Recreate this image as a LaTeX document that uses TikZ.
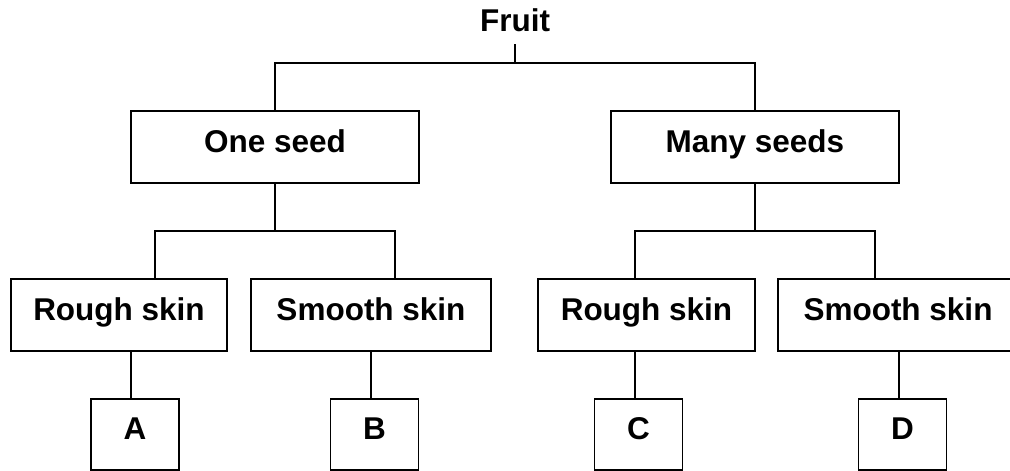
\documentclass[tikz,border=0pt]{standalone}
\usepackage{fontspec}
\setmainfont{Liberation Sans}
\usepackage{tikz}

\begin{document}
\begin{tikzpicture}[x=1pt,y=-1pt,
  txt/.style={inner sep=0pt, text height=23pt, text depth=13pt, font=\fontsize{31.5}{36}\selectfont\bfseries},
  box/.style={txt, draw, line width=1.5pt, minimum height=72pt},
  link/.style={line width=1.5pt}]
\useasboundingbox (0,0) rectangle (1010,471);
\node[txt] (fruit) at (515,26) {Fruit};
\node[box, minimum width=288pt] (one) at (275,147) {One seed};
\node[box, minimum width=288pt] (many) at (755,147) {Many seeds};
\node[box, minimum width=216pt] (r1) at (119,315) {Rough skin};
\node[box, minimum width=240pt] (s1) at (371,315) {Smooth skin};
\node[box, minimum width=217pt] (r2) at (646.5,315) {Rough skin};
\node[box, minimum width=240pt] (s2) at (898,315) {Smooth skin};
\node[box, minimum width=88pt, minimum height=71pt] (a) at (135,434.5) {A};
\node[box, minimum width=88pt, minimum height=71pt] (b) at (374.5,434.5) {B};
\node[box, minimum width=88pt, minimum height=71pt] (c) at (638.5,434.5) {C};
\node[box, minimum width=88pt, minimum height=71pt] (d) at (902.5,434.5) {D};
\coordinate (top) at (515,63);
\coordinate (lj) at (275,231);
\coordinate (rj) at (755,231);
\draw[link] (fruit.south) -- (top);
\draw[link] (one.north) |- (top) -| (many.north);
\draw[link] (one.south) -- (lj);
\draw[link] (many.south) -- (rj);
\draw[link] ([xshift=36]r1.north) |- (lj) -| ([xshift=24]s1.north);
\draw[link] ([xshift=-11.5]r2.north) |- (rj) -| ([xshift=-23]s2.north);
\draw[link] ([xshift=-4]a.north) -- ([xshift=-4]a.north |- r1.south);
\draw[link] ([xshift=-3.5]b.north) -- ([xshift=-3.5]b.north |- s1.south);
\draw[link] ([xshift=-3.5]c.north) -- ([xshift=-3.5]c.north |- r2.south);
\draw[link] ([xshift=-3.5]d.north) -- ([xshift=-3.5]d.north |- s2.south);
\end{tikzpicture}
\end{document}
